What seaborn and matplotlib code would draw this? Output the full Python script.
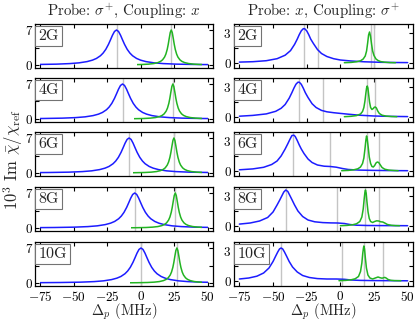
import numpy as np
import matplotlib
matplotlib.use('Agg')
import matplotlib.pyplot as plt
import seaborn as sns
from matplotlib.patches import Rectangle

# ---------------- data ----------------
fields = ['2G', '4G', '6G', '8G', '10G']
col_titles = [r'Probe: $\sigma^{+}$, Coupling: $x$', r'Probe: $x$, Coupling: $\sigma^{+}$']
x_label = r'$\Delta_p$ (MHz)'
y_label = r'$10^3$ Im $\bar{\chi}/\chi_{\rm ref}$'
x_ticks = [-75, -50, -25, 0, 25, 50]
x_tick_labels = ['$-75$', '$-50$', '$-25$', '$0$', '$25$', '$50$']
left_y_ticks = [0, 3.5, 7]
left_y_tick_labels = ['0', '', '7']
right_y_ticks = [0, 1.5, 3]
right_y_tick_labels = ['0', '', '3']

# left column: line shape (offset from centre, value)
blue_profile_offset = [-130, -100, -80, -60, -45, -35, -28, -22, -18, -15, -12, -10, -8, -6, -4.5, -3, -1.5, 0,
                       1.5, 3, 4.5, 6, 8, 10, 12, 15, 18, 22, 28, 35, 45, 60, 80, 100, 130]
blue_profile_value = [0.021, 0.036, 0.056, 0.10, 0.17, 0.28, 0.43, 0.68, 0.97, 1.31, 1.85, 2.39, 3.13, 4.13, 5.03, 5.96, 6.71, 7.0,
                      6.71, 5.96, 5.03, 4.13, 3.13, 2.39, 1.85, 1.31, 0.97, 0.68, 0.43, 0.28, 0.17, 0.10, 0.056, 0.036, 0.021]
green_profile_offset = [-55, -40, -30, -22, -17, -13, -10, -8, -6.5, -5, -4, -3, -2.25, -1.5, -0.75, 0,
                        0.75, 1.5, 2.25, 3, 4, 5, 6.5, 8, 10, 13, 17, 22, 30, 40, 55]
green_profile_value = [0.017, 0.032, 0.056, 0.10, 0.17, 0.29, 0.48, 0.72, 1.03, 1.58, 2.19, 3.13, 4.13, 5.35, 6.50, 7.0,
                       6.50, 5.35, 4.13, 3.13, 2.19, 1.58, 1.03, 0.72, 0.48, 0.29, 0.17, 0.10, 0.056, 0.032, 0.017]
left_blue_center = [-18.1, -13.6, -8.7, -4.5, 0.2]
left_green_center = [22.8, 24.0, 24.8, 25.8, 27.0]
left_blue_range = [-75, 50]
left_green_start = [-3, -5, -6, -7, -8]
left_green_end = [46, 46, 46, 46, 46]

# right column
right_grey = [[-27, -16.5, 22.5, 25], [-31, -12.7, 20, 26], [-35, -7.5, 19.5, 28.5],
              [-40.5, -2.5, 18.7, 29], [-44, 1.5, 17.5, 31.5]]
right_blue_x = [
    [-75, -65, -55, -47, -41, -37, -34, -32, -30.5, -29, -27.5, -26.5, -25, -23.5, -22, -20, -17, -14, -10, -5, 0, 8, 18, 30, 40, 50],
    [-75, -65, -55, -48, -44, -41, -38, -36, -34.5, -33, -31.5, -30.5, -29, -27.5, -26, -24, -21, -18, -14, -10, -5, 0, 6, 14, 25, 38, 50],
    [-75, -65, -57, -51, -47, -44, -41, -39, -37.5, -36, -34.5, -33.5, -32, -30.5, -29, -27, -24, -21, -17, -12, -7.5, -3, 1.5, 6, 14, 25, 38, 50],
    [-75, -67, -60, -54, -50, -47, -45, -43.5, -42, -40.5, -39, -37.5, -36, -34, -31.5, -28, -24, -19, -13, -7, -2, 3, 7, 12, 20, 32, 50],
    [-75, -68, -62, -57, -53, -50, -48, -46.5, -45.2, -44, -42.8, -41.5, -40, -38, -35.5, -32, -28, -23, -17, -10, -3, 3, 8, 15, 25, 38, 50],
]
right_blue_y = [
    [0.09, 0.13, 0.23, 0.43, 0.78, 1.24, 1.86, 2.39, 2.84, 3.22, 3.43, 3.43, 3.22, 2.84, 2.39, 1.95, 1.35, 0.95, 0.65, 0.43, 0.30, 0.20, 0.12, 0.07, 0.05, 0.04],
    [0.08, 0.16, 0.31, 0.57, 0.87, 1.25, 1.88, 2.43, 2.88, 3.27, 3.48, 3.48, 3.27, 2.88, 2.43, 1.95, 1.33, 0.95, 0.66, 0.52, 0.43, 0.36, 0.28, 0.18, 0.10, 0.06, 0.04],
    [0.12, 0.21, 0.37, 0.65, 1.0, 1.5, 2.2, 2.73, 3.15, 3.54, 3.58, 3.45, 3.05, 2.6, 2.2, 1.75, 1.2, 0.85, 0.6, 0.48, 0.45, 0.38, 0.25, 0.15, 0.09, 0.06, 0.04, 0.03],
    [0.19, 0.3, 0.5, 0.85, 1.4, 2.1, 2.6, 3.0, 3.4, 3.6, 3.45, 3.05, 2.65, 2.1, 1.5, 0.95, 0.6, 0.42, 0.34, 0.31, 0.3, 0.25, 0.15, 0.08, 0.05, 0.04, 0.03],
    [0.2, 0.3, 0.48, 0.8, 1.3, 1.95, 2.5, 2.9, 3.2, 3.3, 3.2, 2.9, 2.5, 1.95, 1.4, 0.9, 0.55, 0.35, 0.24, 0.2, 0.2, 0.17, 0.1, 0.06, 0.04, 0.03, 0.02],
]
right_green_x = [
    [3, 8, 12, 15, 17, 18.5, 19.5, 20.3, 21, 21.7, 22.4, 23.2, 24, 25, 26.5, 28, 30, 33, 37, 41],
    [3, 8, 12, 15, 16.5, 17.5, 18.3, 19, 19.5, 20, 20.5, 21, 21.7, 22.5, 23.5, 24.5, 25.3, 26, 26.8, 27.8, 29, 31, 34, 38, 42],
    [1, 6, 10, 13, 15, 16.5, 17.5, 18.3, 19, 19.5, 20, 20.7, 21.5, 22.5, 23.5, 24.5, 25.5, 26.5, 27.5, 28.5, 29.5, 31, 33, 36, 40, 43],
    [0, 5, 9, 12, 14.5, 16, 17, 17.8, 18.3, 18.7, 19.2, 19.8, 20.6, 21.5, 22.5, 24, 25.5, 27, 28.5, 30, 31.5, 33, 35, 38, 41, 44],
    [-1, 4, 8, 11, 13.5, 15, 16, 16.7, 17.2, 17.5, 18, 18.6, 19.4, 20.5, 22, 24, 26, 28, 29.5, 31, 32, 33, 34, 35.5, 37.5, 40, 45],
]
right_green_y = [
    [0.03, 0.06, 0.12, 0.22, 0.4, 0.7, 1.2, 2.0, 2.8, 3.1, 2.7, 1.9, 1.2, 0.75, 0.4, 0.25, 0.14, 0.08, 0.04, 0.03],
    [0.03, 0.07, 0.14, 0.3, 0.55, 0.95, 1.6, 2.4, 2.9, 3.1, 2.9, 2.3, 1.5, 0.95, 0.75, 0.85, 0.98, 1.0, 0.9, 0.6, 0.35, 0.18, 0.09, 0.05, 0.03],
    [0.03, 0.06, 0.12, 0.22, 0.4, 0.75, 1.3, 2.2, 3.1, 3.5, 3.2, 2.4, 1.4, 0.75, 0.45, 0.4, 0.55, 0.8, 0.9, 0.85, 0.65, 0.35, 0.18, 0.09, 0.05, 0.03],
    [0.03, 0.06, 0.12, 0.22, 0.45, 0.9, 1.7, 2.8, 3.4, 3.6, 3.3, 2.4, 1.4, 0.75, 0.45, 0.35, 0.45, 0.52, 0.5, 0.42, 0.4, 0.3, 0.15, 0.07, 0.04, 0.03],
    [0.03, 0.06, 0.12, 0.22, 0.45, 0.95, 1.8, 2.8, 3.3, 3.5, 3.2, 2.3, 1.3, 0.6, 0.3, 0.2, 0.3, 0.4, 0.33, 0.28, 0.32, 0.36, 0.3, 0.15, 0.07, 0.04, 0.03],
]

# ---------------- style ----------------
sns.set_theme(style='ticks')
plt.rcParams.update({
    'font.family': ['cmr10', 'DejaVu Serif'],
    'mathtext.fontset': 'cm',
    'axes.unicode_minus': False,
    'axes.linewidth': 0.9,
    'axes.edgecolor': 'black',
})

BLUE = '#1c1cff'
GREEN = '#22b422'
GREY = '#c4c4c4'

fig = plt.figure(figsize=(4.15, 3.23), dpi=100)
W, H = 415.0, 323.0
col_x = [35, 234]
col_w = [178, 179]
row_top = [24, 78, 132, 187, 242]
row_h = 44

xlim = (-79, 54)


def style_axis(ax, yticks, ylabels, ylim, bottom):
    ax.set_xlim(*xlim)
    ax.set_ylim(*ylim)
    ax.set_xticks(x_ticks)
    ax.set_xticklabels(x_tick_labels if bottom else [])
    ax.set_yticks(yticks)
    ax.set_yticklabels(ylabels)
    ax.tick_params(direction='in', top=True, right=True, length=3, width=0.8,
                   labelsize=9.5, colors='black')
    ax.tick_params(axis='x', pad=2.6)
    ax.tick_params(axis='y', pad=2.5, labelsize=9.5)
    ax.set_xlabel('')
    ax.set_ylabel('')
    for s in ax.spines.values():
        s.set_visible(True)
        s.set_color('black')


def clip_x(ax, line, x0, x1):
    rect = Rectangle((x0, -10), x1 - x0, 30, transform=ax.transData)
    line.set_clip_path(rect)


def field_box(ax, txt):
    ax.text(0.02, 0.89, txt, transform=ax.transAxes, ha='left', va='top', fontsize=11.5,
            bbox=dict(boxstyle='square,pad=0.2', fc='white', ec='0.45', lw=0.8), zorder=5)


for r, fld in enumerate(fields):
    bottom = r == len(fields) - 1
    # ---- left column ----
    ax = fig.add_axes([col_x[0] / W, 1 - (row_top[r] + row_h) / H, col_w[0] / W, row_h / H])
    for gx in [left_blue_center[r], left_green_center[r]]:
        ax.axvline(gx, color=GREY, lw=1.0, zorder=1)
    bx = [left_blue_center[r] + o for o in blue_profile_offset]
    sns.lineplot(x=bx, y=blue_profile_value, ax=ax, color=BLUE, lw=1.1, estimator=None, sort=False, zorder=2)
    clip_x(ax, ax.lines[-1], left_blue_range[0], left_blue_range[1])
    gxs = [left_green_center[r] + o for o in green_profile_offset]
    sns.lineplot(x=gxs, y=green_profile_value, ax=ax, color=GREEN, lw=1.1, estimator=None, sort=False, zorder=3)
    clip_x(ax, ax.lines[-1], left_green_start[r], left_green_end[r])
    style_axis(ax, left_y_ticks, left_y_tick_labels, (-0.6, 8.2), bottom)
    field_box(ax, fld)

    # ---- right column ----
    ax = fig.add_axes([col_x[1] / W, 1 - (row_top[r] + row_h) / H, col_w[1] / W, row_h / H])
    for gx in right_grey[r]:
        ax.axvline(gx, color=GREY, lw=1.0, zorder=1)
    sns.lineplot(x=right_blue_x[r], y=right_blue_y[r], ax=ax, color=BLUE, lw=1.1, estimator=None, sort=False, zorder=2)
    sns.lineplot(x=right_green_x[r], y=right_green_y[r], ax=ax, color=GREEN, lw=1.1, estimator=None, sort=False, zorder=3)
    style_axis(ax, right_y_ticks, right_y_tick_labels, (-0.5, 3.9), bottom)
    field_box(ax, fld)

# titles and labels
for c in range(2):
    cx = (col_x[c] + col_w[c] / 2) / W
    fig.text(cx, 1 - 11 / H, col_titles[c], ha='center', va='center', fontsize=10.8)
    fig.text(cx, 1 - 322.5 / H, x_label, ha='center', va='bottom', fontsize=10.5)
fig.text(13 / W, 1 - 160 / H, y_label, ha='center', va='center', rotation=90, fontsize=12)

fig.savefig('out.png', dpi=100)
